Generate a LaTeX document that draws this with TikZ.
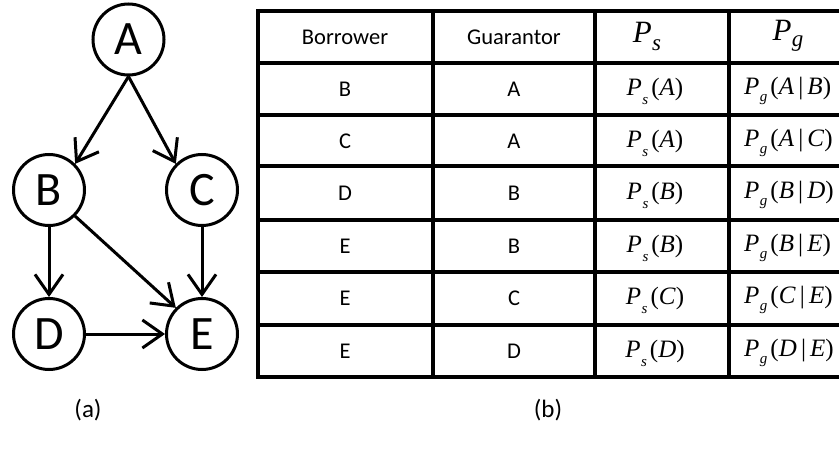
\documentclass[tikz,border=0pt]{standalone}
\usepackage{fontspec}
\setmainfont{Carlito}
\newfontfamily\tms{Liberation Serif}
\usetikzlibrary{arrows.meta}
% #1 size of P, #2 size of subscript, #3 subscript, #4 lowering
\newcommand\Psub[4]{{\tms\fontsize{#1}{#1}\selectfont\itshape P\kern0.5pt\raisebox{-#4pt}{\fontsize{#2}{#2}\selectfont #3}}}
\newcommand\Pcell[2]{{\tms\fontsize{25}{25}\selectfont\Psub{25}{15}{#1}{9}\kern3pt{\upshape(}\textit{#2}{\upshape)}}}
\newcommand\Pcond[3]{{\tms\fontsize{25}{25}\selectfont\Psub{25}{15}{#1}{7}\kern3pt{\upshape(}\textit{#2}\,{\upshape|}\,\textit{#3}{\upshape)}}}
\begin{document}
\begin{tikzpicture}[x=1pt,y=-1pt,
  gnode/.style={circle,draw,line width=3pt,minimum size=71pt,inner sep=0pt,font=\fontsize{48}{48}\selectfont},
  garrow/.style={line width=3pt,-{Straight Barb[length=20pt,width=28pt,line width=3pt]}},
  tline/.style={line width=3.5pt},
  cell/.style={font=\fontsize{22.5}{22.5}\selectfont,inner sep=0pt},
  lab/.style={font=\fontsize{25}{25}\selectfont,inner sep=0pt}]
\useasboundingbox (0,0) rectangle (839,452);
\clip (0,0) rectangle (839,452);
% graph
\node[gnode] (A) at (128.5,39.5) {A};
\node[gnode] (B) at (49,190) {B};
\node[gnode] (C) at (202,190) {C};
\node[gnode] (D) at (49,334) {D};
\node[gnode] (E) at (202,334) {E};
\draw[garrow] (A.south) -- (B.north east);
\draw[garrow] (A.south) -- (C.north west);
\draw[garrow] (B) -- (D);
\draw[garrow] (B.south east) -- (E.north west);
\draw[garrow] (C) -- (E);
\draw[garrow] (D) -- (E);
\node[lab] (la) at (88,410) {(a)};
% table
\foreach \yy in {11,63,115,166,220,272,325} \draw[tline] (256,\yy) -- (845,\yy);
\draw[line width=4pt] (256,377) -- (845,377);
\draw[line width=4pt] (258,9) -- (258,379);
\foreach \xx in {433,595,729} \draw[tline] (\xx,11) -- (\xx,377);
\node[cell] (h1) at (345,37) {Borrower};
\node[cell] (h2) at (514,37) {Guarantor};
\node[inner sep=0pt] (h3) at (647,36) {\Psub{31}{23}{s}{8}};
\node[inner sep=0pt] (h4) at (788,36) {\Psub{31}{23}{g}{6}};
\foreach \r/\yc/\bo/\gu/\ps/\pa/\pb in {1/89/B/A/A/A/B, 2/141/C/A/A/A/C, 3/193/D/B/B/B/D, 4/246/E/B/B/B/E, 5/298/E/C/C/C/E, 6/351/E/D/D/D/E}{
  \node[cell] (bo\r) at (345,\yc) {\bo};
  \node[cell] (gu\r) at (514,\yc) {\gu};
  \node[inner sep=0pt] (ps\r) at (655,\yc+2) {\Pcell{s}{\ps}};
  \node[inner sep=0pt,anchor=west] (pg\r) at (744,\yc+2) {\Pcond{g}{\pa}{\pb}};
}
\node[lab] (lb) at (548,410) {(b)};
\end{tikzpicture}
\end{document}
